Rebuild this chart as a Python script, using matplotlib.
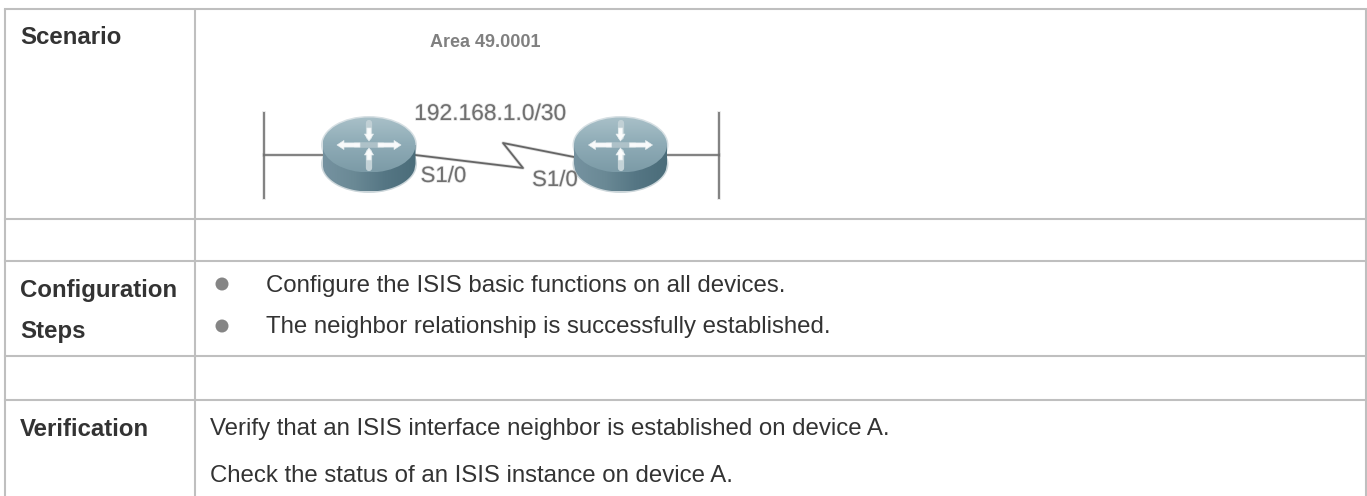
import numpy as np
import matplotlib
matplotlib.use('Agg')
import matplotlib.pyplot as plt
import matplotlib.patheffects as pe
from matplotlib.colors import LinearSegmentedColormap
from matplotlib.patches import Ellipse, Polygon, Circle

plt.rcParams['font.family'] = ['Liberation Sans', 'DejaVu Sans']

W, H = 1367, 496
line_col = '#bfbfbf'
text_col = '#333333'
grey = '#858585'

# table grid
row_lines = [9, 219, 261, 356, 400]
col_lines = [5, 194.5, 1365.5]

# table text
row_labels = ['Scenario', 'Configuration', 'Steps', 'Verification']
row_label_y = [44, 297, 338, 436]
bullets = ['Configure the ISIS basic functions on all devices.',
           'The neighbor relationship is successfully established.']
bullet_y = [284, 326]
bullet_text_y = [292, 333]
verify = ['Verify that an ISIS interface neighbor is established on device A.',
          'Check the status of an ISIS instance on device A.']
verify_y = [435, 482]

# diagram
routers_x = [369, 620.5]
bars_x = [264, 719]
stubs = [(264, 323), (667, 719)]
link_x = [415, 523, 503, 574]
link_y = [155, 168, 143, 157]
labels = ['192.168.1.0/30', 'S1/0', 'S1/0']
labels_x = [490, 443.5, 555]
labels_y = [120, 182, 186]
labels_size = [16.4, 16, 16]

fig = plt.figure(figsize=(W / 100, H / 100), dpi=100)
ax = fig.add_axes([0, 0, 1, 1])
ax.set_xlim(0, W)
ax.set_ylim(H, 0)
ax.axis('off')

for y in row_lines:
    ax.plot([col_lines[0], col_lines[-1]], [y, y], color=line_col, lw=1.5, solid_capstyle='projecting')
for x in col_lines:
    ax.plot([x, x], [row_lines[0], H], color=line_col, lw=1.5, solid_capstyle='butt')

for lab, y in zip(row_labels, row_label_y):
    ax.text(20, y, lab, fontsize=17.3, fontweight='bold', color=text_col, va='baseline')
for lab, y, ty in zip(bullets, bullet_y, bullet_text_y):
    ax.add_patch(Circle((222, y), 6.5, color=grey, lw=0))
    ax.text(266, ty, lab, fontsize=17.3, color=text_col, va='baseline')
for lab, y in zip(verify, verify_y):
    ax.text(210, y, lab, fontsize=17.3, color=text_col, va='baseline')

soft = [pe.withStroke(linewidth=1.2, foreground='#808080', alpha=0.2)]
ax.text(485, 47, 'Area 49.0001', fontsize=13, fontweight='bold', color='#808080', ha='center', va='baseline')

# wires
wire = '#707070'
for x in bars_x:
    ax.plot([x, x], [113, 198], color=wire, lw=2.6, alpha=0.2)
    ax.plot([x, x], [113, 198], color=wire, lw=1.4, alpha=0.85)
for x0, x1 in stubs:
    ax.plot([x0, x1], [155, 155], color=wire, lw=2.6, alpha=0.2)
    ax.plot([x0, x1], [155, 155], color=wire, lw=1.4, alpha=0.85)
ax.plot(link_x, link_y, color='#505050', lw=2.4, alpha=0.2)
ax.plot(link_x, link_y, color='#505050', lw=1.3, alpha=0.85)

body_map = LinearSegmentedColormap.from_list('body', ['#7592a0', '#6a8995', '#557684', '#4b6d7a'])
top_map = LinearSegmentedColormap.from_list('top', ['#a9c0c8', '#8eabb6', '#7c9ba7'])


def router(cx):
    top, side = 145, 164
    rx, ry = 46.5, 27.5
    # soft edge of the blurred icon
    ax.add_patch(Ellipse((cx, top), 2 * rx + 3, 2 * ry + 3, fc='#8aa5af', ec='none', alpha=0.35, zorder=2))
    ax.add_patch(Ellipse((cx, side), 2 * rx + 3, 2 * ry + 3, fc='#6f8c97', ec='none', alpha=0.35, zorder=2))
    grad = np.linspace(0, 1, 200).reshape(1, -1)
    im = ax.imshow(grad, extent=[cx - rx, cx + rx, side + ry, top], cmap=body_map, aspect='auto', zorder=3)
    xs = np.linspace(-1, 1, 80)
    outline = [(cx + rx * v, side + ry * np.sqrt(1 - v * v)) for v in xs]
    outline += [(cx + rx, top), (cx - rx, top)]
    clip = Polygon(outline, transform=ax.transData, fc='none', ec='none')
    ax.add_patch(clip)
    im.set_clip_path(clip)
    # top face
    g = np.linspace(0, 1, 200).reshape(-1, 1)
    im2 = ax.imshow(g, extent=[cx - rx, cx + rx, top + ry, top - ry], cmap=top_map, aspect='auto', zorder=4)
    e = Ellipse((cx, top), 2 * rx, 2 * ry, fc='none', ec='none')
    ax.add_patch(e)
    im2.set_clip_path(e)
    # faint tails of the arrows
    ax.plot([cx, cx], [123, 137], color='#c9d6da', lw=4.5, alpha=0.8, zorder=5, solid_capstyle='round')
    ax.plot([cx, cx], [152, 168], color='#d5e0e3', lw=4.5, alpha=0.8, zorder=5, solid_capstyle='round')
    ax.plot([cx - 12, cx + 12], [145, 145], color='#b7c8ce', lw=4, alpha=0.8, zorder=5)
    # arrows: horizontal point out, vertical point in
    arrows = [((cx - 32, 145), (cx - 9, 145)), ((cx + 32, 145), (cx + 9, 145)),
              ((cx, 141), (cx, 128)), ((cx, 148), (cx, 160))]
    for tip, tail in arrows:
        ax.annotate('', xy=tip, xytext=tail, zorder=6,
                    arrowprops=dict(arrowstyle='simple,head_length=0.5,head_width=0.65,tail_width=0.3',
                                    fc='white', ec='#e6eef0', lw=0.5, alpha=0.95, shrinkA=0, shrinkB=0))


for cx in routers_x:
    router(cx)

ax.set_xlim(0, W)
ax.set_ylim(H, 0)

for lab, x, y, s in zip(labels, labels_x, labels_y, labels_size):
    ax.text(x, y, lab, fontsize=s, color='#707070', ha='center', va='baseline', zorder=7, path_effects=soft)

plt.savefig('out.png', dpi=100)
